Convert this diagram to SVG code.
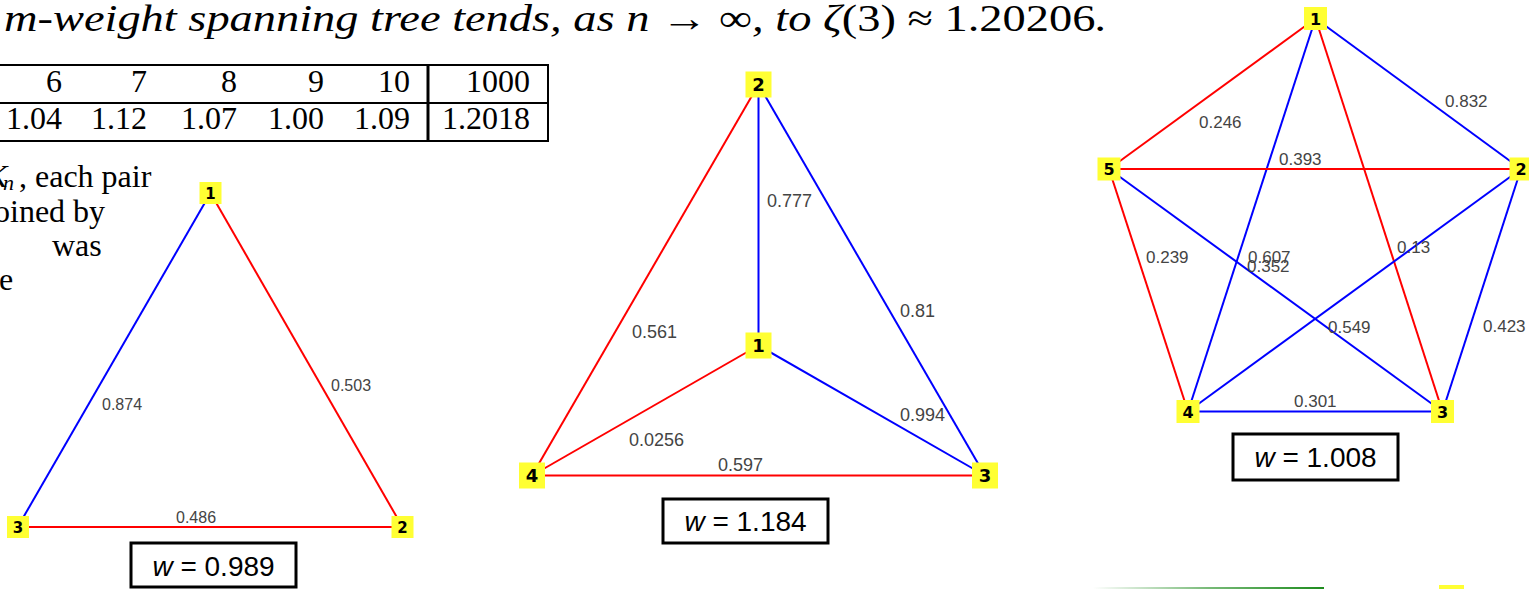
<svg xmlns="http://www.w3.org/2000/svg" width="1529" height="589" viewBox="0 0 1529 589">
<defs>
<style>
.serif{font-family:"Liberation Serif","Times New Roman",serif;fill:#000}
.it{font-style:italic}
.tbl{font-family:"Liberation Serif","Times New Roman",serif;font-size:32px;text-anchor:end;fill:#000}
.red{stroke:#ff0000;stroke-width:2;fill:none}
.blue{stroke:#0000ff;stroke-width:2;fill:none}
.node rect{fill:#ffff33}
.nl{font-family:"DejaVu Sans",Verdana,sans-serif;font-weight:bold;fill:#000;text-anchor:middle}
.lbl{font-family:"Liberation Sans",Arial,sans-serif;fill:#444}
.wbox{fill:#fff;stroke:#000;stroke-width:3}
.wt{font-family:"Liberation Sans",Arial,sans-serif;font-size:28px;fill:#000;text-anchor:middle}
.line{stroke:#000;stroke-width:2}
</style>
<linearGradient id="fade" x1="0" y1="0" x2="1" y2="0">
<stop offset="0" stop-color="#1e8c1e" stop-opacity="0"/>
<stop offset="0.5" stop-color="#1e8c1e" stop-opacity="0.6"/>
<stop offset="1" stop-color="#1e8c1e" stop-opacity="1"/>
</linearGradient>
</defs>
<rect width="1529" height="589" fill="#fff"/>

<g id="title">
<text class="serif" x="4" y="31" font-size="38" textLength="1103" lengthAdjust="spacingAndGlyphs"><tspan class="it">m-weight spanning tree tends, as n</tspan> → ∞<tspan class="it">, to ζ</tspan>(3) ≈ 1.20206<tspan class="it">.</tspan></text>
</g>

<g id="table">
<line class="line" x1="0" y1="65" x2="549" y2="65"/>
<line class="line" x1="0" y1="103" x2="549" y2="103"/>
<line class="line" x1="0" y1="141" x2="549" y2="141"/>
<line class="line" x1="548" y1="64" x2="548" y2="142"/>
<line x1="428" y1="64" x2="428" y2="142" stroke="#000" stroke-width="3"/>
<text class="tbl" y="92"><tspan x="62">6</tspan><tspan x="147">7</tspan><tspan x="237">8</tspan><tspan x="324">9</tspan><tspan x="410">10</tspan><tspan x="530">1000</tspan></text>
<text class="tbl" y="129"><tspan x="62">1.04</tspan><tspan x="147">1.12</tspan><tspan x="237">1.07</tspan><tspan x="324">1.00</tspan><tspan x="410">1.09</tspan><tspan x="530">1.2018</tspan></text>
</g>

<g id="paragraph">
<text class="serif it" x="-14" y="187" font-size="32">K</text>
<text class="serif it" x="3" y="190" font-size="22">n</text>
<text class="serif" x="19" y="187" font-size="32">,</text>
<text class="serif" x="35" y="187" font-size="32">each pair</text>
<text class="serif" x="-6" y="222" font-size="32">oined by</text>
<text class="serif" x="52" y="256" font-size="32">was</text>
<text class="serif" x="-1" y="290" font-size="32">e</text>
</g>

<!-- Graph A: triangle -->
<g id="graphA-edges">
<line class="blue" x1="210.5" y1="193" x2="18" y2="526.5"/>
<line class="red" x1="210.5" y1="193" x2="402.5" y2="527"/>
<line class="red" x1="18" y1="527" x2="402.5" y2="527"/>
<text class="lbl" x="102" y="410" font-size="16">0.874</text>
<text class="lbl" x="331" y="391" font-size="16">0.503</text>
<text class="lbl" x="176" y="523" font-size="16">0.486</text>
</g>
<g id="A1" class="node"><rect x="199.5" y="182" width="22" height="22"/><text class="nl" x="210.5" y="198.5" font-size="15">1</text></g>
<g id="A2" class="node"><rect x="391.5" y="516" width="22" height="22"/><text class="nl" x="402.5" y="532.5" font-size="15">2</text></g>
<g id="A3" class="node"><rect x="7" y="516" width="22" height="22"/><text class="nl" x="18" y="532.5" font-size="15">3</text></g>
<g id="A-weight"><rect class="wbox" x="131" y="543" width="165" height="44"/><text class="wt" x="213.5" y="576"><tspan font-style="italic">w</tspan> = 0.989</text></g>

<!-- Graph B: K4 -->
<g id="graphB-edges">
<line class="red" x1="758.5" y1="84.5" x2="532" y2="475.5"/>
<line class="blue" x1="758.5" y1="84.5" x2="758.5" y2="345.5"/>
<line class="blue" x1="758.5" y1="84.5" x2="985" y2="475.5"/>
<line class="red" x1="758.5" y1="345.5" x2="532" y2="475.5"/>
<line class="blue" x1="758.5" y1="345.5" x2="985" y2="475.5"/>
<line class="red" x1="532" y1="475.5" x2="985" y2="475.5"/>
<text class="lbl" x="767" y="207" font-size="18">0.777</text>
<text class="lbl" x="900" y="317" font-size="18">0.81</text>
<text class="lbl" x="632" y="338" font-size="18">0.561</text>
<text class="lbl" x="900" y="421" font-size="18">0.994</text>
<text class="lbl" x="629" y="446" font-size="18">0.0256</text>
<text class="lbl" x="718" y="471" font-size="18">0.597</text>
</g>
<g id="B1" class="node"><rect x="745.5" y="332.5" width="26" height="26"/><text class="nl" x="758.5" y="352" font-size="18">1</text></g>
<g id="B2" class="node"><rect x="745.5" y="71.5" width="26" height="26"/><text class="nl" x="758.5" y="91" font-size="18">2</text></g>
<g id="B3" class="node"><rect x="972" y="462.5" width="26" height="26"/><text class="nl" x="985" y="482" font-size="18">3</text></g>
<g id="B4" class="node"><rect x="519" y="462.5" width="26" height="26"/><text class="nl" x="532" y="482" font-size="18">4</text></g>
<g id="B-weight"><rect class="wbox" x="663" y="499" width="165" height="44"/><text class="wt" x="745.5" y="531"><tspan font-style="italic">w</tspan> = 1.184</text></g>

<!-- Graph C: K5 -->
<g id="graphC-edges">
<line class="red" x1="1315.5" y1="18.5" x2="1109" y2="169"/>
<line class="blue" x1="1315.5" y1="18.5" x2="1188" y2="411.5"/>
<line class="red" x1="1315.5" y1="18.5" x2="1442.5" y2="411.5"/>
<line class="blue" x1="1315.5" y1="18.5" x2="1521" y2="169"/>
<line class="red" x1="1109" y1="169" x2="1521" y2="169"/>
<line class="red" x1="1109" y1="169" x2="1188" y2="411.5"/>
<line class="blue" x1="1109" y1="169" x2="1442.5" y2="411.5"/>
<line class="blue" x1="1521" y1="169" x2="1188" y2="411.5"/>
<line class="blue" x1="1521" y1="169" x2="1442.5" y2="411.5"/>
<line class="blue" x1="1188" y1="411.5" x2="1442.5" y2="411.5"/>
<text class="lbl" x="1445" y="107" font-size="17">0.832</text>
<text class="lbl" x="1199" y="128" font-size="17">0.246</text>
<text class="lbl" x="1279" y="165" font-size="17">0.393</text>
<text class="lbl" x="1146" y="263" font-size="17">0.239</text>
<text class="lbl" x="1248" y="263" font-size="17">0.607</text>
<text class="lbl" x="1247" y="272" font-size="17">0.352</text>
<text class="lbl" x="1397" y="253" font-size="17">0.13</text>
<text class="lbl" x="1328" y="333" font-size="17">0.549</text>
<text class="lbl" x="1483" y="332" font-size="17">0.423</text>
<text class="lbl" x="1294" y="407" font-size="17">0.301</text>
</g>
<g id="C1" class="node"><rect x="1304" y="7" width="23" height="23"/><text class="nl" x="1315.5" y="24.5" font-size="16">1</text></g>
<g id="C2" class="node"><rect x="1509.5" y="157.5" width="23" height="23"/><text class="nl" x="1521" y="175" font-size="16">2</text></g>
<g id="C3" class="node"><rect x="1431" y="400" width="23" height="23"/><text class="nl" x="1442.5" y="417.5" font-size="16">3</text></g>
<g id="C4" class="node"><rect x="1176.5" y="400" width="23" height="23"/><text class="nl" x="1188" y="417.5" font-size="16">4</text></g>
<g id="C5" class="node"><rect x="1097.5" y="157.5" width="23" height="23"/><text class="nl" x="1109" y="175" font-size="16">5</text></g>
<g id="C-weight"><rect class="wbox" x="1233" y="434" width="165" height="46"/><text class="wt" x="1315.5" y="467"><tspan font-style="italic">w</tspan> = 1.008</text></g>

<g id="bottom-fragment">
<rect x="1093" y="587" width="231" height="2" fill="url(#fade)"/>
<rect x="1439" y="585" width="25" height="4" fill="#ffff33"/>
</g>
</svg>
